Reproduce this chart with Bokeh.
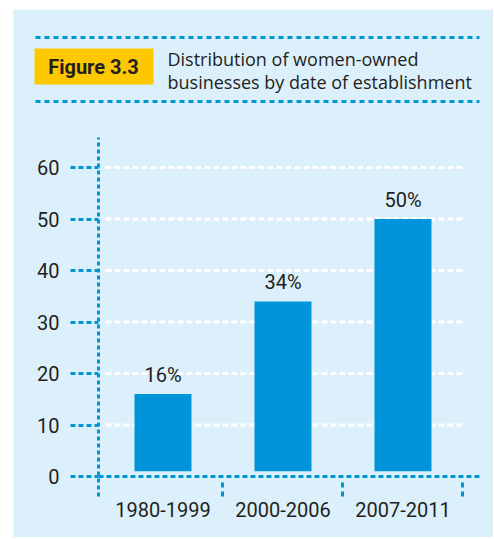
from bokeh.plotting import figure
from bokeh.models import Range1d, FixedTicker, LinearAxis
from bokeh.embed import file_html
from bokeh.resources import INLINE
from bokeh.core.properties import value

# ---- data ----
categories = ["1980-1999", "2000-2006", "2007-2011"]
shares = [16, 34, 50]
y_ticks = [0, 10, 20, 30, 40, 50, 60]
figure_tag = "Figure 3.3"
title_lines = ["Distribution of women-owned", "businesses by date of establishment"]

# ---- style ----
PANEL = "#dcf0fb"
BLUE = "#0096d6"
BAR = "#0095da"
INK = "#231f20"
YELLOW = "#fdc800"
NUM_FONT = "Roboto"
TXT_FONT = "Open Sans"

x = list(range(len(categories)))
seps = [i + 0.5 for i in x]

p = figure(width=480, height=528,
           x_range=Range1d(-1.2458, 2.7542), y_range=Range1d(-11.84, 90.68),
           output_backend="svg", toolbar_location=None, min_border=0,
           x_axis_location=None, y_axis_location=None)
p.margin = (9, 0, 0, 13)
p.grid.visible = False
p.outline_line_color = None
p.background_fill_color = PANEL
p.border_fill_color = PANEL

# pixel-based range for the header block
p.extra_x_ranges = {"px": Range1d(0, 480)}
p.extra_y_ranges = {"px": Range1d(528, 0)}

# ---- header ----
p.segment(x0=[22, 22], y0=[28, 92], x1=[466, 466], y1=[28, 92],
          line_color=BLUE, line_width=3, line_dash="5 4",
          x_range_name="px", y_range_name="px")
p.quad(left=[21], right=[140], top=[39], bottom=[75], fill_color=YELLOW, line_color=None,
       x_range_name="px", y_range_name="px")
p.text(x=[80], y=[57], text=[figure_tag], text_font=value(NUM_FONT), text_font_style="bold",
       text_font_size="20px", text_align="center", text_baseline="middle", text_color=INK,
       x_range_name="px", y_range_name="px")
p.text(x=[154, 154], y=[49, 72], text=title_lines, text_font=value(TXT_FONT),
       text_font_size="18px", text_align="left", text_baseline="alphabetic", text_color=INK,
       x_range_name="px", y_range_name="px")

# ---- chart ----
grid_vals = [t for t in y_ticks if t > 0]
p.segment(x0=[x[0] - 0.48] * len(grid_vals), x1=[x[-1] + 0.5] * len(grid_vals),
          y0=grid_vals, y1=grid_vals, line_color="white", line_width=3, line_dash="6 3")

p.vbar(x=x, top=shares, bottom=1, width=0.475, fill_color=BAR, line_color=None)
p.text(x=x, y=shares, text=[f"{v}%" for v in shares], text_align="center",
       text_baseline="alphabetic", y_offset=-19, text_font=value(NUM_FONT),
       text_font_size="20px", text_color=INK)

yax = LinearAxis(ticker=FixedTicker(ticks=y_ticks), fixed_location=-0.5375,
                 bounds=(-3.88, 65.83))
yax.axis_line_color = BLUE
yax.axis_line_width = 3
yax.axis_line_dash = "4 3"
yax.major_tick_line_color = BLUE
yax.major_tick_line_width = 3
yax.major_tick_line_dash = "5 3"
yax.major_tick_out = 28
yax.major_tick_in = 0
yax.minor_tick_line_color = None
yax.major_label_standoff = 11
yax.major_label_text_font = NUM_FONT
yax.major_label_text_font_size = "20px"
yax.major_label_text_color = INK
p.add_layout(yax, "left")

xax = LinearAxis(ticker=FixedTicker(ticks=x, minor_ticks=seps), fixed_location=0,
                 bounds=(-0.5375, 2.646),
                 major_label_overrides={i: c for i, c in zip(x, categories)})
xax.axis_line_color = BLUE
xax.axis_line_width = 3
xax.axis_line_dash = "5 3"
xax.major_tick_line_color = None
xax.major_tick_out = 0
xax.major_tick_in = 0
xax.minor_tick_line_color = BLUE
xax.minor_tick_line_width = 3
xax.minor_tick_line_dash = "5 4 5 10"
xax.minor_tick_out = 20
xax.minor_tick_in = 0
xax.major_label_standoff = 5
xax.major_label_text_font = NUM_FONT
xax.major_label_text_font_size = "20px"
xax.major_label_text_color = INK
p.add_layout(xax, "below")

open("out.html", "w").write(file_html(p, INLINE))
